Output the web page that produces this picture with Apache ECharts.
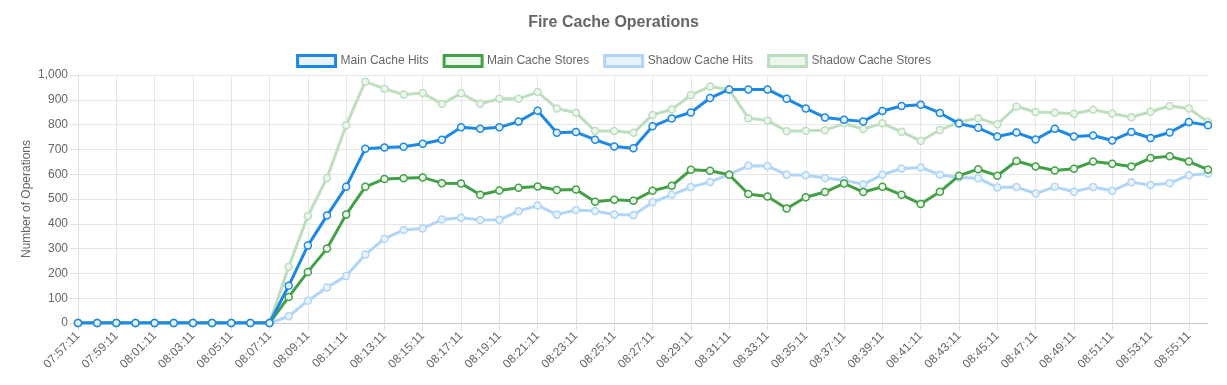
<!DOCTYPE html>
<html>
<head>
<meta charset="utf-8">
<script src="https://cdn.jsdelivr.net/npm/echarts@6/dist/echarts.min.js"></script>
<style>html,body{margin:0;padding:0;background:#fff}#c{width:1227px;height:385px}</style>
</head>
<body>
<div id="c"></div>
<script>
const categories = ['07:57:11','07:58:11','07:59:11','08:00:11','08:01:11','08:02:11','08:03:11','08:04:11','08:05:11','08:06:11',
'08:07:11','08:08:11','08:09:11','08:10:11','08:11:11','08:12:11','08:13:11','08:14:11','08:15:11','08:16:11',
'08:17:11','08:18:11','08:19:11','08:20:11','08:21:11','08:22:11','08:23:11','08:24:11','08:25:11','08:26:11',
'08:27:11','08:28:11','08:29:11','08:30:11','08:31:11','08:32:11','08:33:11','08:34:11','08:35:11','08:36:11',
'08:37:11','08:38:11','08:39:11','08:40:11','08:41:11','08:42:11','08:43:11','08:44:11','08:45:11','08:46:11',
'08:47:11','08:48:11','08:49:11','08:50:11','08:51:11','08:52:11','08:53:11','08:54:11','08:55:11','08:56:11'];

const mainCacheHits = [0,0,0,0,0,0,0,0,0,0,
0,150,312,433,549,703,708,711,723,739,
789,783,789,812,856,767,770,739,712,705,
793,825,849,907,942,942,942,904,865,829,
820,813,855,875,880,847,804,787,752,768,
740,783,752,756,736,770,746,768,810,797];

const mainCacheStores = [0,0,0,0,0,0,0,0,0,0,
0,105,206,300,437,549,581,584,587,564,
563,517,534,545,550,536,538,489,497,493,
533,553,618,614,598,520,510,462,507,528,
563,528,549,517,480,529,594,620,594,653,
631,615,622,651,642,631,665,672,651,618];

const shadowCacheHits = [0,0,0,0,0,0,0,0,0,0,
0,27,90,143,190,276,340,375,381,417,
424,415,416,451,474,437,456,452,437,435,
487,517,548,569,599,634,633,598,596,585,
576,559,598,623,627,598,587,584,546,548,
522,549,529,548,533,568,556,564,596,603];

const shadowCacheStores = [0,0,0,0,0,0,0,0,0,0,
0,227,431,585,797,973,945,921,927,883,
926,884,904,904,931,865,848,774,774,767,
839,861,919,954,941,826,817,773,775,777,
805,782,805,771,734,778,810,826,801,873,
851,848,844,860,845,830,852,875,865,811];

const seriesNames = ['Main Cache Hits','Main Cache Stores','Shadow Cache Hits','Shadow Cache Stores'];
const seriesData = [mainCacheHits, mainCacheStores, shadowCacheHits, shadowCacheStores];
const lineColors = ['#1E88E5','#43A047','#B0D5F6','#BDDEBF'];
const fillColors = ['#E8F3FC','#ECF6EC','#E8F3FC','#ECF6EC'];
const zs = [5,4,3,2];

const chart = echarts.init(document.getElementById('c'), null, {renderer:'canvas'});
const font = 'Helvetica Neue, Liberation Sans, Arial, sans-serif';
chart.setOption({
  animation:false,
  textStyle:{fontFamily:font},
  title:{text:'Fire Cache Operations',left:'center',top:10,
    textStyle:{fontSize:16,fontWeight:'bold',color:'#666',fontFamily:font}},
  legend:{top:49,left:'center',itemWidth:38,itemHeight:11,itemGap:14,icon:'rect',
    textStyle:{fontSize:12,color:'#666',fontFamily:font},
    data:seriesNames.map((n,i)=>({name:n,icon:'rect',
      itemStyle:{color:fillColors[i],borderColor:lineColors[i],borderWidth:3}}))},
  grid:{left:78,right:19,top:75,bottom:62,containLabel:false},
  xAxis:{type:'category',data:categories,boundaryGap:false,
    axisLine:{lineStyle:{color:'#c8c8c8'}},
    axisTick:{show:true,interval:1,length:8,lineStyle:{color:'#e0e0e0'}},
    axisLabel:{interval:1,rotate:45,color:'#666',fontSize:12,margin:11,fontFamily:font},
    splitLine:{show:true,interval:1,lineStyle:{color:'#e6e6e6'}}},
  yAxis:{type:'value',min:0,max:1000,interval:100,
    name:'Number of Operations',nameLocation:'middle',nameGap:45,nameMoveOverlap:false,
    nameTextStyle:{color:'#666',fontSize:12,fontFamily:font},
    axisLine:{show:true,lineStyle:{color:'#e0e0e0'}},
    axisTick:{show:true,length:8,lineStyle:{color:'#e0e0e0'}},
    axisLabel:{color:'#666',fontSize:12,margin:10,fontFamily:font,
      formatter:v=>v.toLocaleString('en-US')},
    splitLine:{lineStyle:{color:'#e6e6e6'}}},
  series:seriesNames.map((n,i)=>({name:n,type:'line',data:seriesData[i],z:zs[i],
    symbol:'circle',symbolSize:7,showAllSymbol:true,
    lineStyle:{color:lineColors[i],width:3},
    itemStyle:{color:fillColors[i],borderColor:lineColors[i],borderWidth:1.5}}))
});
</script>
</body>
</html>
